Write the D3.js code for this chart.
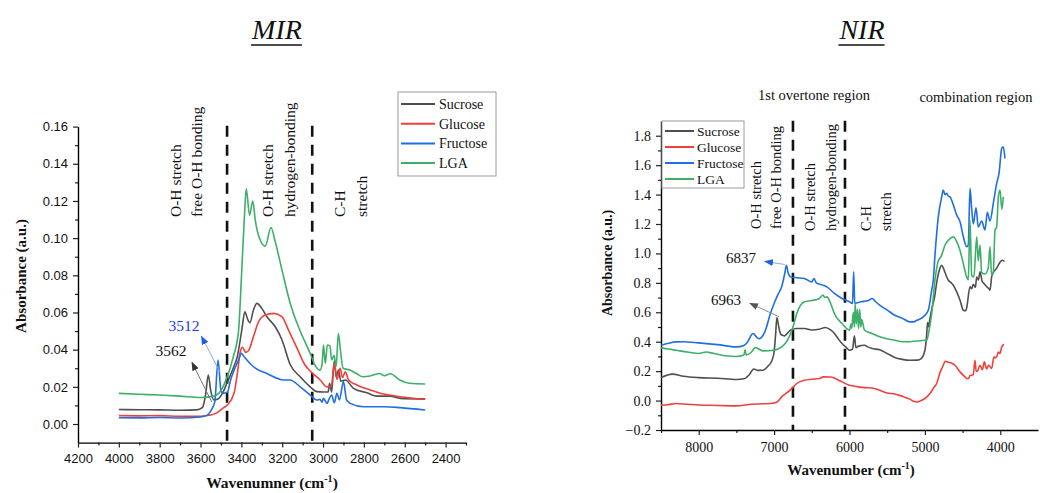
<!DOCTYPE html>
<html><head><meta charset="utf-8">
<script src="https://cdn.jsdelivr.net/npm/d3@7"></script>
<style>body{margin:0;background:#fff}svg{display:block}</style>
</head><body>
<svg id="c" width="1040" height="493"></svg>
<script>
const seriesNames = ["Sucrose", "Glucose", "Fructose", "LGA"];
const seriesColors = ["#4f4f4f", "#f0403c", "#1f6fe2", "#3daf68"];

const mirXTicks = [4200, 4000, 3800, 3600, 3400, 3200, 3000, 2800, 2600, 2400];
const mirYTicks = [0.00, 0.02, 0.04, 0.06, 0.08, 0.10, 0.12, 0.14, 0.16];
const nirXTicks = [8000, 7000, 6000, 5000, 4000];
const nirYTicks = [-0.2, 0.0, 0.2, 0.4, 0.6, 0.8, 1.0, 1.2, 1.4, 1.6, 1.8];
const mirDashed = [3470, 3053];
const nirDashed = [6750, 6060];

const mirSucrose = [[4000,0.0078],[3900,0.0077],[3800,0.0076],[3700,0.0074],[3620,0.0076],[3590,0.009],[3575,0.016],[3562,0.0264],[3550,0.018],[3535,0.013],[3515,0.0135],[3490,0.017],[3471,0.0219],[3440,0.030],[3420,0.0362],[3398,0.0505],[3383,0.0604],[3368,0.056],[3358,0.0545],[3341,0.0613],[3324,0.0649],[3300,0.0622],[3275,0.0577],[3234,0.0523],[3201,0.0452],[3161,0.032],[3112,0.0254],[3063,0.020],[3030,0.0174],[3000,0.0172],[2975,0.0172],[2968,0.0219],[2958,0.0172],[2945,0.034],[2936,0.0254],[2924,0.029],[2913,0.023],[2891,0.0237],[2851,0.0192],[2785,0.0168],[2736,0.015],[2671,0.015],[2622,0.0138],[2500,0.0135]];
const mirGlucose = [[4000,0.0045],[3900,0.0044],[3800,0.0045],[3700,0.0041],[3600,0.0042],[3550,0.0048],[3520,0.006],[3490,0.0085],[3469,0.0102],[3436,0.0165],[3420,0.027],[3405,0.039],[3395,0.0413],[3378,0.0385],[3362,0.040],[3341,0.047],[3316,0.055],[3283,0.0586],[3242,0.0595],[3201,0.0577],[3169,0.0505],[3128,0.041],[3090,0.032],[3063,0.0285],[3014,0.0237],[2981,0.020],[2960,0.0205],[2944,0.0326],[2932,0.024],[2916,0.030],[2905,0.025],[2891,0.0281],[2875,0.0237],[2834,0.021],[2769,0.0183],[2703,0.0161],[2622,0.0147],[2500,0.0133]];
const mirFructose = [[4000,0.0034],[3900,0.0033],[3800,0.0035],[3700,0.0032],[3600,0.0038],[3567,0.0048],[3545,0.008],[3530,0.012],[3514,0.0344],[3500,0.018],[3490,0.0165],[3469,0.0169],[3453,0.0237],[3439,0.028],[3414,0.0344],[3400,0.038],[3385,0.036],[3373,0.0344],[3341,0.0308],[3275,0.0272],[3193,0.0237],[3161,0.0237],[3112,0.020],[3063,0.0156],[3030,0.0129],[3015,0.0133],[3005,0.0118],[2998,0.0138],[2981,0.0111],[2970,0.0135],[2958,0.0156],[2945,0.0115],[2932,0.0165],[2920,0.013],[2900,0.0228],[2885,0.013],[2867,0.0111],[2802,0.0093],[2700,0.0093],[2622,0.0088],[2500,0.0075]];
const mirLGA = [[4000,0.0165],[3900,0.016],[3800,0.0156],[3700,0.015],[3600,0.0143],[3534,0.015],[3500,0.018],[3469,0.0255],[3440,0.036],[3414,0.050],[3398,0.0828],[3386,0.1097],[3376,0.1265],[3360,0.1124],[3344,0.120],[3332,0.1097],[3308,0.099],[3283,0.0957],[3255,0.1057],[3234,0.098],[3201,0.0828],[3161,0.065],[3112,0.050],[3063,0.038],[3039,0.0315],[3015,0.029],[3005,0.032],[2998,0.0425],[2989,0.0326],[2979,0.0425],[2966,0.042],[2958,0.0344],[2946,0.037],[2936,0.031],[2925,0.0487],[2915,0.0398],[2902,0.030],[2869,0.029],[2837,0.0272],[2804,0.0254],[2770,0.0258],[2723,0.0272],[2700,0.026],[2670,0.027],[2625,0.0237],[2576,0.0219],[2500,0.0215]];

const nirSucrose = [[8500,0.156],[8350,0.18],[8200,0.165],[8000,0.156],[7750,0.152],[7500,0.143],[7400,0.148],[7330,0.175],[7270,0.215],[7220,0.205],[7150,0.206],[7080,0.235],[7030,0.27],[7000,0.33],[6980,0.45],[6963,0.565],[6945,0.52],[6925,0.47],[6900,0.445],[6860,0.44],[6820,0.46],[6780,0.48],[6700,0.49],[6600,0.49],[6500,0.48],[6400,0.485],[6320,0.497],[6250,0.48],[6200,0.456],[6150,0.42],[6100,0.388],[6050,0.365],[6000,0.342],[5960,0.35],[5935,0.44],[5915,0.36],[5880,0.37],[5800,0.376],[5760,0.365],[5700,0.354],[5600,0.345],[5500,0.32],[5400,0.293],[5300,0.28],[5200,0.274],[5100,0.275],[5050,0.285],[5000,0.342],[4976,0.45],[4965,0.53],[4955,0.5],[4932,0.56],[4910,0.62],[4866,0.72],[4844,0.80],[4822,0.86],[4800,0.90],[4777,0.92],[4755,0.90],[4733,0.87],[4711,0.84],[4689,0.818],[4650,0.80],[4623,0.784],[4578,0.739],[4534,0.682],[4490,0.614],[4460,0.61],[4446,0.63],[4402,0.773],[4380,0.76],[4358,0.79],[4330,0.77],[4313,0.84],[4290,0.82],[4269,0.875],[4240,0.81],[4225,0.80],[4190,0.78],[4172,0.77],[4150,0.76],[4137,0.75],[4115,0.84],[4093,0.87],[4070,0.886],[4048,0.90],[4026,0.92],[4004,0.94],[3969,0.954],[3945,0.945]];
const nirGlucose = [[8500,-0.032],[8400,-0.028],[8300,-0.02],[8150,-0.025],[8000,-0.03],[7750,-0.033],[7500,-0.036],[7300,-0.025],[7150,-0.022],[7000,-0.016],[6950,-0.005],[6900,0.025],[6850,0.045],[6800,0.066],[6750,0.09],[6700,0.116],[6600,0.138],[6500,0.145],[6400,0.15],[6350,0.161],[6250,0.16],[6150,0.14],[6100,0.127],[6000,0.104],[5900,0.095],[5800,0.088],[5700,0.085],[5600,0.07],[5500,0.052],[5400,0.045],[5300,0.029],[5200,0.01],[5150,-0.005],[5109,-0.01],[5050,0.0],[5000,0.014],[4932,0.048],[4880,0.09],[4844,0.116],[4800,0.19],[4756,0.24],[4733,0.267],[4690,0.26],[4650,0.256],[4601,0.24],[4534,0.195],[4468,0.161],[4446,0.15],[4420,0.15],[4402,0.17],[4358,0.175],[4336,0.274],[4320,0.2],[4305,0.2],[4269,0.24],[4238,0.21],[4212,0.263],[4181,0.215],[4155,0.24],[4115,0.218],[4084,0.297],[4070,0.29],[4048,0.297],[4026,0.33],[4004,0.32],[3981,0.365],[3951,0.383]];
const nirFructose = [[8500,0.376],[8400,0.39],[8300,0.399],[8200,0.40],[8000,0.392],[7750,0.38],[7500,0.365],[7400,0.375],[7350,0.40],[7280,0.456],[7230,0.43],[7200,0.42],[7120,0.47],[7050,0.59],[7000,0.66],[6950,0.72],[6900,0.773],[6860,0.86],[6837,0.92],[6815,0.87],[6780,0.84],[6700,0.835],[6600,0.83],[6500,0.807],[6470,0.83],[6440,0.8],[6350,0.784],[6300,0.773],[6200,0.728],[6100,0.694],[6000,0.671],[5960,0.66],[5945,0.875],[5930,0.66],[5900,0.665],[5850,0.671],[5750,0.68],[5700,0.694],[5650,0.67],[5600,0.649],[5500,0.615],[5400,0.58],[5300,0.56],[5200,0.535],[5154,0.535],[5100,0.547],[5021,0.569],[4955,0.614],[4910,0.75],[4889,0.818],[4866,0.99],[4822,1.25],[4777,1.385],[4756,1.43],[4733,1.40],[4711,1.408],[4690,1.39],[4667,1.385],[4623,1.33],[4578,1.26],[4534,1.215],[4490,1.113],[4446,1.045],[4424,1.06],[4402,1.442],[4379,1.3],[4358,1.2],[4322,1.31],[4292,1.18],[4247,1.22],[4203,1.16],[4172,1.28],[4137,1.22],[4093,1.34],[4048,1.476],[4017,1.544],[3981,1.714],[3960,1.725],[3938,1.646]];
const nirLGA = [[8500,0.36],[8400,0.35],[8300,0.342],[8150,0.33],[8000,0.32],[7900,0.33],[7800,0.32],[7650,0.305],[7500,0.30],[7400,0.31],[7385,0.345],[7370,0.31],[7300,0.33],[7250,0.36],[7150,0.338],[7000,0.342],[6900,0.365],[6850,0.39],[6800,0.433],[6750,0.50],[6700,0.59],[6600,0.671],[6500,0.68],[6400,0.694],[6350,0.717],[6330,0.70],[6300,0.705],[6250,0.66],[6200,0.59],[6100,0.524],[6000,0.478],[5980,0.52],[5970,0.49],[5950,0.60],[5935,0.50],[5925,0.66],[5910,0.52],[5895,0.62],[5880,0.49],[5865,0.62],[5850,0.50],[5840,0.55],[5800,0.478],[5700,0.456],[5600,0.433],[5500,0.42],[5400,0.41],[5300,0.40],[5200,0.40],[5100,0.405],[5000,0.41],[4976,0.41],[4955,0.45],[4910,0.59],[4866,0.82],[4844,0.90],[4822,0.95],[4800,0.966],[4777,0.99],[4733,1.057],[4667,1.10],[4623,1.113],[4578,1.08],[4534,1.02],[4490,0.93],[4446,0.84],[4424,0.82],[4402,1.227],[4379,0.85],[4350,0.84],[4313,1.113],[4292,0.95],[4269,1.057],[4247,0.87],[4203,0.86],[4160,0.90],[4137,1.045],[4115,0.85],[4093,0.87],[4070,1.158],[4048,1.18],[4026,1.385],[4004,1.43],[3980,1.30],[3960,1.385]];

const mirSeries = [mirSucrose, mirGlucose, mirFructose, mirLGA];
const nirSeries = [nirSucrose, nirGlucose, nirFructose, nirLGA];

const SERIF = "'Liberation Serif', 'Times New Roman', serif";
const SANS = "'Liberation Sans', Arial, sans-serif";
const svg = d3.select("#c");

// arrow markers
const defs = svg.append("defs");
[["arrBlack", "#333"], ["arrBlue", "#1f5fe0"], ["arrGray", "#555"]].forEach(([id, col]) => {
  defs.append("marker").attr("id", id).attr("markerUnits", "userSpaceOnUse")
    .attr("markerWidth", 9).attr("markerHeight", 7).attr("refX", 8).attr("refY", 3.5)
    .attr("orient", "auto")
    .append("path").attr("d", "M0,0 L9,3.5 L0,7 z").attr("fill", col);
});

function minorBetween(ticks, extra) {
  const out = [];
  for (let i = 0; i < ticks.length - 1; i++) out.push((ticks[i] + ticks[i + 1]) / 2);
  return out.concat(extra || []);
}

function drawPanel(p) {
  const g = svg.append("g");
  const x = d3.scaleLinear().domain(p.xDomain).range(p.xRange);
  const y = d3.scaleLinear().domain(p.yDomain).range(p.yRange);

  // minor ticks
  g.append("g").attr("transform", `translate(0,${p.yRange[0]})`)
    .call(d3.axisBottom(x).tickValues(p.xMinor).tickSize(3).tickSizeOuter(0).tickFormat(""))
    .call(a => a.select(".domain").remove());
  g.append("g").attr("transform", `translate(${p.xRange[0]},0)`)
    .call(d3.axisLeft(y).tickValues(p.yMinor).tickSize(3).tickSizeOuter(0).tickFormat(""))
    .call(a => a.select(".domain").remove());

  const xa = g.append("g").attr("transform", `translate(0,${p.yRange[0]})`)
    .call(d3.axisBottom(x).tickValues(p.xTicks).tickSize(5).tickPadding(p.xPad).tickSizeOuter(0).tickFormat(d3.format("d")));
  const ya = g.append("g").attr("transform", `translate(${p.xRange[0]},0)`)
    .call(d3.axisLeft(y).tickValues(p.yTicks).tickSize(5).tickPadding(5).tickSizeOuter(0).tickFormat(d3.format(p.yFmt)));
  [xa, ya].forEach(a => {
    a.selectAll("text").style("font-family", p.tickFont).style("font-size", p.tickSize + "px").attr("fill", "#111");
    a.select(".domain").attr("stroke-width", 1.4);
  });
  g.selectAll(".tick line").attr("stroke-width", 1.2).attr("stroke", "#222");

  // dashed lines
  p.dashed.forEach(w => {
    g.append("line").attr("x1", x(w)).attr("x2", x(w)).attr("y1", p.dashTop).attr("y2", p.yRange[0])
      .attr("stroke", "#111").attr("stroke-width", 2.6).attr("stroke-dasharray", "11,8");
  });

  // series
  const line = d3.line().x(d => x(d[0])).y(d => y(d[1])).curve(d3.curveMonotoneX);
  p.series.forEach((s, i) => {
    g.append("path").datum(s).attr("d", line).attr("fill", "none")
      .attr("stroke", seriesColors[i]).attr("stroke-width", 1.6).attr("stroke-linejoin", "round");
  });

  // legend
  const L = p.legend;
  g.append("rect").attr("x", L.x).attr("y", L.y).attr("width", L.w).attr("height", L.h)
    .attr("fill", "#fff").attr("stroke", "#9a9a9a").attr("stroke-width", 1);
  seriesNames.forEach((n, i) => {
    const yy = L.y0 + i * L.dy;
    g.append("line").attr("x1", L.lx1).attr("x2", L.lx2).attr("y1", yy).attr("y2", yy)
      .attr("stroke", seriesColors[i]).attr("stroke-width", 2);
    g.append("text").attr("x", L.tx).attr("y", yy).attr("dy", "0.35em").text(n)
      .style("font-family", SERIF).style("font-size", L.fs + "px").attr("fill", "#111");
  });
  return { x, y, g };
}

const mir = drawPanel({
  xDomain: [4200, 2300], xRange: [78, 466], yDomain: [-0.01, 0.16], yRange: [442.6, 126.6],
  xTicks: mirXTicks, yTicks: mirYTicks,
  xMinor: minorBetween(mirXTicks, [2300]), yMinor: minorBetween(mirYTicks, []),
  yFmt: ".2f", tickFont: SANS, tickSize: 13, xPad: 6,
  dashed: mirDashed, dashTop: 125.7, series: mirSeries,
  legend: { x: 398, y: 92, w: 98, h: 84, y0: 104, dy: 19.7, lx1: 401, lx2: 435, tx: 439, fs: 14 }
});

const nir = drawPanel({
  xDomain: [8500, 3500], xRange: [661, 1038], yDomain: [-0.2, 1.9], yRange: [430, 121],
  xTicks: nirXTicks, yTicks: nirYTicks,
  xMinor: [8500, 7500, 6500, 5500, 4500], yMinor: minorBetween(nirYTicks, []),
  yFmt: ".1f", tickFont: SERIF, tickSize: 14, xPad: 7,
  dashed: nirDashed, dashTop: 120.7, series: nirSeries,
  legend: { x: 662, y: 121, w: 82, h: 67, y0: 131, dy: 16, lx1: 665, lx2: 694, tx: 697, fs: 13.5 }
});

// titles
function title(txt, cx) {
  const t = svg.append("text").attr("x", cx).attr("y", 39).attr("text-anchor", "middle").text(txt)
    .style("font-family", SERIF).style("font-style", "italic").style("font-size", "28px").attr("fill", "#111");
  const bb = t.node().getBBox();
  svg.append("line").attr("x1", bb.x).attr("x2", bb.x + bb.width).attr("y1", 45).attr("y2", 45)
    .attr("stroke", "#111").attr("stroke-width", 1.5);
}
title("MIR", 277);
title("NIR", 862);

// axis titles
function xTitle(main, cx, by, fs) {
  const t = svg.append("text").attr("x", cx).attr("y", by).attr("text-anchor", "middle")
    .style("font-family", SERIF).style("font-weight", "bold").style("font-size", fs + "px").attr("fill", "#111");
  t.append("tspan").text(main + " (cm");
  t.append("tspan").attr("dy", -6).style("font-size", (fs * 0.65) + "px").text("-1");
  t.append("tspan").attr("dy", 6).text(")");
}
xTitle("Wavenumner", 272, 488, 15.5);
xTitle("Wavenumber", 851, 475, 15);

function yTitle(cx, cy, fs) {
  svg.append("text").attr("transform", `translate(${cx},${cy}) rotate(-90)`).attr("text-anchor", "middle")
    .attr("dy", "0.35em").text("Absorbance (a.u.)")
    .style("font-family", SERIF).style("font-weight", "bold").style("font-size", fs + "px").attr("fill", "#111");
}
yTitle(21, 276, 15);
yTitle(607, 263, 14);

// vertical annotations
function vText(lines, bottom, fs) {
  lines.forEach(([cx, txt]) => {
    svg.append("text").attr("transform", `translate(${cx + fs * 0.33},${bottom}) rotate(-90)`)
      .attr("text-anchor", "start").text(txt)
      .style("font-family", SERIF).style("font-size", fs + "px").attr("fill", "#111");
  });
}
vText([[175.7, "O-H stretch"], [196.7, "free O-H bonding"]], 217, 15.5);
vText([[268, "O-H stretch"], [290, "hydrogen-bonding"]], 217, 15.5);
vText([[340, "C-H"], [361.7, "stretch"]], 217, 15.5);
vText([[756.7, "O-H stretch"], [776.7, "free O-H bonding"]], 229, 14.5);
vText([[810, "O-H stretch"], [831.7, "hydrogen-bonding"]], 231, 14.5);
vText([[866.7, "C-H"], [886.7, "stretch"]], 231, 14.5);

// region labels
[["1st overtone region", 814, 100], ["combination region", 976, 102]].forEach(([t, cx, by]) => {
  svg.append("text").attr("x", cx).attr("y", by).attr("text-anchor", "middle").text(t)
    .style("font-family", SERIF).style("font-size", "14.5px").attr("fill", "#111");
});

// peak labels + arrows
function peakLabel(txt, cx, by, col, fs) {
  svg.append("text").attr("x", cx).attr("y", by).attr("text-anchor", "middle").text(txt)
    .style("font-family", SERIF).style("font-size", fs + "px").attr("fill", col);
}
function arrow(x1, y1, x2, y2, col, marker) {
  svg.append("line").attr("x1", x1).attr("y1", y1).attr("x2", x2).attr("y2", y2)
    .attr("stroke", col).attr("stroke-width", 1).attr("marker-end", `url(#${marker})`);
}
peakLabel("3512", 184, 331, "#1a3cf0", 15.5);
peakLabel("3562", 171, 356, "#111", 15.5);
arrow(mir.x(3545), mir.y(0.014) + 4, 192, 362.5, "#777", "arrBlack");
arrow(mir.x(3505), mir.y(0.028), 201.5, 336.5, "#8aa8f0", "arrBlue");
peakLabel("6837", 741, 262.5, "#111", 15);
peakLabel("6963", 726, 305, "#111", 15);
arrow(nir.x(6830) - 2, 264.5, 765, 261.5, "#8aa8f0", "arrBlue");
arrow(nir.x(6963) + 2, 316.7, 750, 303.3, "#888", "arrGray");
</script>
</body></html>
